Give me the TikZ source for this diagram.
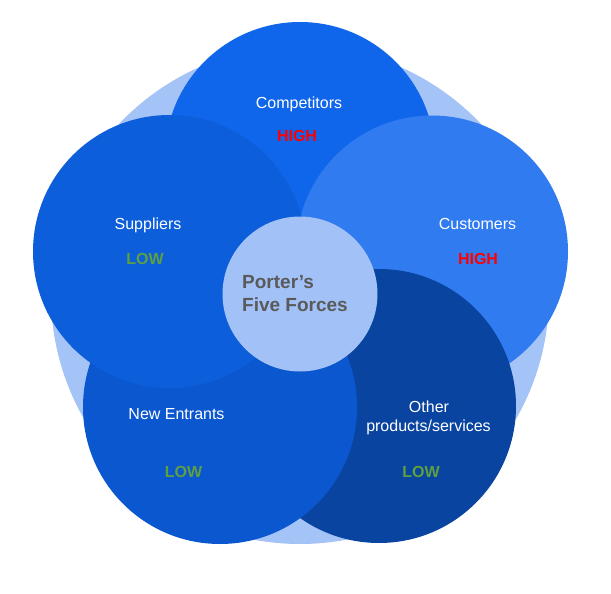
\documentclass[tikz,border=0pt]{standalone}
\usepackage{fontspec}
\setmainfont{Liberation Sans}
\definecolor{bgc}{HTML}{A4C3F6}
\definecolor{compc}{HTML}{1066EA}
\definecolor{custc}{HTML}{2F7BEF}
\definecolor{suppc}{HTML}{0D5EDB}
\definecolor{newc}{HTML}{0B57D0}
\definecolor{othc}{HTML}{0944A0}
\definecolor{cenc}{HTML}{A1C1F7}
\definecolor{highc}{HTML}{FF0000}
\definecolor{lowc}{HTML}{5EA040}
\definecolor{titc}{HTML}{5A5A5A}
\tikzset{
  force/.style={circle, inner sep=0pt, minimum size=#1},
  lbl/.style={anchor=base, inner sep=0pt, text=white, font=\fontsize{16}{19}\selectfont},
  hi/.style={anchor=base, inner sep=0pt, text=highc, font=\fontsize{16}{19}\selectfont\bfseries},
  lo/.style={anchor=base, inner sep=0pt, text=lowc, font=\fontsize{16}{19}\selectfont\bfseries},
  ttl/.style={anchor=base west, inner sep=0pt, text=titc, font=\fontsize{19}{23}\selectfont\bfseries},
}
\begin{document}
\begin{tikzpicture}[x=1pt,y=-1pt]
\useasboundingbox (0,0) rectangle (611,594);
\node[force=498pt, fill=bgc] (bg) at (300,295) {};
\node[force=270pt, fill=compc] (comp) at (300,157) {};
\node[force=272pt, fill=custc] (cust) at (432,251.5) {};
\node[force=274pt, fill=othc] (oth) at (379,406) {};
\node[force=274pt, fill=newc] (new) at (220,407) {};
\node[force=273pt, fill=suppc] (supp) at (169.5,251.5) {};
\node[force=155pt, fill=cenc] (cen) at (300,294) {};
% labels
\node[lbl] (tcomp) at (299,108) {Competitors};
\node[hi] (hcomp) at (297,142) {HIGH};
\node[lbl] (tsupp) at (148,229) {Suppliers};
\node[lo] (lsupp) at (145,264) {LOW};
\node[lbl] (tcust) at (477.5,229) {Customers};
\node[hi] (hcust) at (478,264) {HIGH};
\node[lbl] (tnew) at (176.5,419) {New Entrants};
\node[lo] (lnew) at (183.5,477) {LOW};
\node[lbl] (toth1) at (429,412) {Other};
\node[lbl] (toth2) at (428.5,431) {products/services};
\node[lo] (loth) at (421,477) {LOW};
\node[ttl] (t1) at (242,288) {Porter’s};
\node[ttl] (t2) at (242,311) {Five Forces};
\end{tikzpicture}
\end{document}
